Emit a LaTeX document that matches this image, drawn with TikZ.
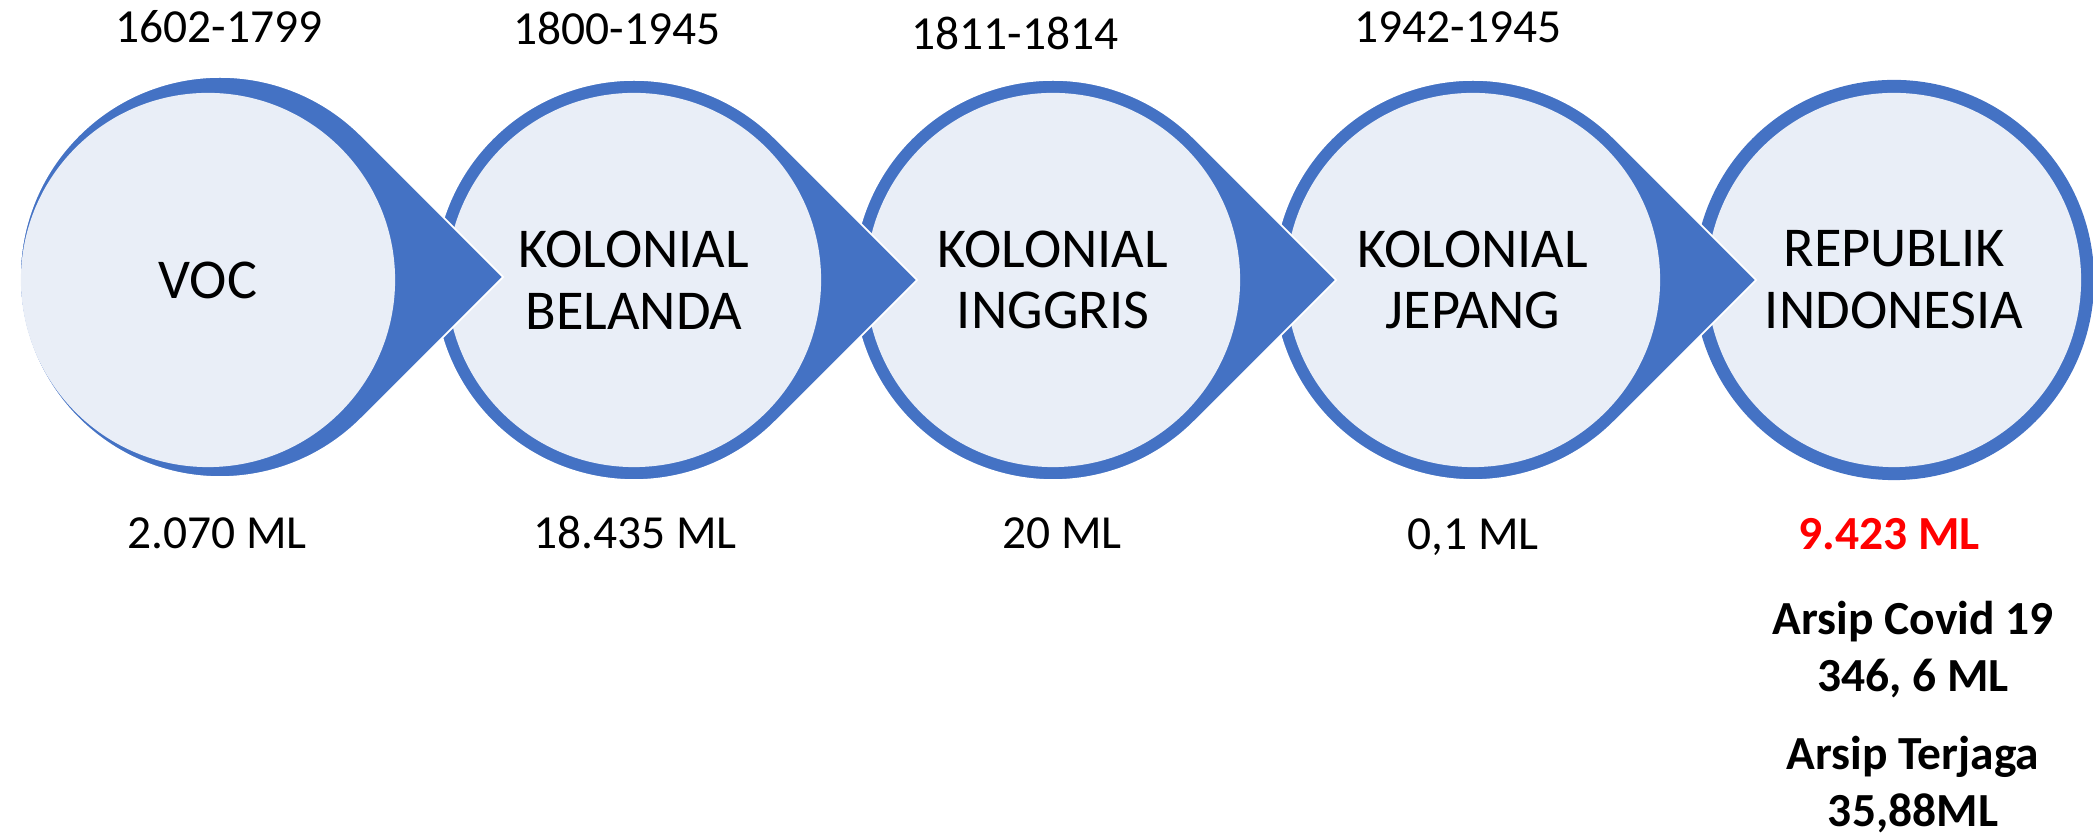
\documentclass[tikz,border=0pt]{standalone}
\usepackage{fontspec}
\setmainfont{Carlito}
\definecolor{procBlue}{HTML}{4472C4}
\definecolor{procLight}{HTML}{E9EEF7}
\definecolor{procRed}{HTML}{FF0000}
\tikzset{
  dropShape/.style={fill=procBlue, draw=white, line width=0.5pt},
  stageCirc/.style={circle, fill=procLight, minimum size=3.74cm, inner sep=0pt,
                    outer sep=0pt, align=center, font=\fontsize{16}{17.6}\selectfont},
  yearLbl/.style={anchor=base, font=\fontsize{13.5}{16}\selectfont},
  volLbl/.style={anchor=base, font=\fontsize{13.5}{16}\selectfont},
  noteLbl/.style={anchor=base, font=\bfseries\fontsize{13.5}{16}\selectfont},
}

\begin{document}
\begin{tikzpicture}[x=0.01cm, y=0.01cm]
  \useasboundingbox (0,0) rectangle (2093,834);
  % last stage has no arrow tip
  \coordinate (b5) at (1894,554);
  \fill[procBlue] (b5) circle[radius=2cm];
  \node[stageCirc] (c5) at (1894,554) {REPUBLIK\\INDONESIA};
  % the others are drawn right to left so each tip lies over the next circle
  \foreach \n/\cx/\dx/\dy/\txt in {4/1473/0/0/{KOLONIAL\\JEPANG},
                                   3/1053/0/0/{KOLONIAL\\INGGRIS},
                                   2/634/0/0/{KOLONIAL\\BELANDA},
                                   1/208/12/3/{VOC}}{
    \coordinate (b\n) at (\cx+\dx,554+\dy);
    \fill[dropShape] (b\n) ++(45:2cm) arc[start angle=45, end angle=315, radius=2cm]
      -- ([xshift=2.83cm]b\n) -- cycle;
    \node[stageCirc] (c\n) at (\cx,554) {\txt};
  }

  \node[yearLbl] (yr1) at (219,791) {1602-1799};
  \node[yearLbl] (yr2) at (617,789) {1800-1945};
  \node[yearLbl] (yr3) at (1015,784) {1811-1814};
  \node[yearLbl] (yr4) at (1458,791) {1942-1945};

  \node[volLbl] (ml1) at (217,285) {2.070 ML};
  \node[volLbl] (ml2) at (635,285) {18.435 ML};
  \node[volLbl] (ml3) at (1062,285) {20 ML};
  \node[volLbl] (ml4) at (1473,284) {0,1 ML};
  \node[noteLbl, text=procRed] (ml5) at (1889,284) {9.423 ML};

  \node[noteLbl] (covid) at (1913,199) {Arsip Covid 19};
  \node[noteLbl] (covidml) at (1913,142) {346, 6 ML};
  \node[noteLbl] (jaga) at (1913,64) {Arsip Terjaga};
  \node[noteLbl] (jagaml) at (1913,7) {35,88ML};
\end{tikzpicture}
\end{document}
